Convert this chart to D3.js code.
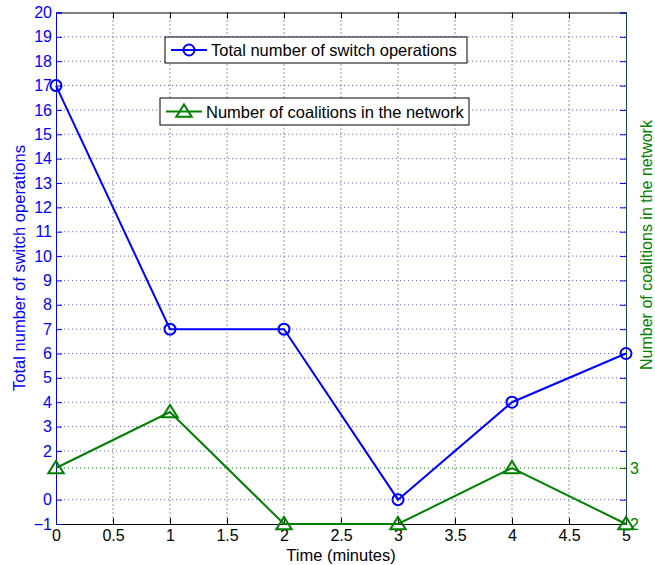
<!DOCTYPE html>
<html><head><meta charset="utf-8">
<script src="https://cdn.jsdelivr.net/npm/d3@7"></script>
<style>body{margin:0;background:#fff}text{font-family:"Liberation Sans",Arial,sans-serif}</style>
</head><body><svg id="c" width="655" height="565"></svg>
<script>
const times = [0, 1, 2, 3, 4, 5];
const switchOps = [17, 7, 7, 0, 4, 6];
const coalitions = [3, 4, 2, 2, 3, 2];
const xTicks = [0, 0.5, 1, 1.5, 2, 2.5, 3, 3.5, 4, 4.5, 5];
const leftTicks = [-1, 0, 2, 3, 4, 5, 6, 7, 8, 9, 10, 11, 12, 13, 14, 15, 16, 17, 18, 19, 20];
const rightTicks = [2, 3];
const labels = {x: "Time (minutes)", yl: "Total number of switch operations", yr: "Number of coalitions in the network"};

const svg = d3.select("#c");
const L = 56, R = 626, T = 12.5, B = 524;
const x = d3.scaleLinear().domain([0, 5]).range([L, R]);
const yl = d3.scaleLinear().domain([-1, 20]).range([B, T]);
const yr = d3.scaleLinear().domain([2, 2 + (B - T) / 56]).range([B, T]);
const blue = "#0000ff", green = "#008000";

// grids
const g = svg.append("g");
g.selectAll(".vg").data(xTicks.slice(1, -1)).join("line")
  .attr("x1", d => x(d)).attr("x2", d => x(d)).attr("y1", T).attr("y2", B)
  .attr("stroke", "#000").attr("stroke-width", 1).attr("stroke-dasharray", "1,3").attr("opacity", 0.8);
g.selectAll(".hg").data(leftTicks.slice(1, -1)).join("line")
  .attr("x1", L).attr("x2", R).attr("y1", d => yl(d)).attr("y2", d => yl(d))
  .attr("stroke", "#6060ff").attr("stroke-width", 1).attr("stroke-dasharray", "1,3");
g.selectAll(".rg").data(rightTicks.slice(1)).join("line")
  .attr("x1", L).attr("x2", R).attr("y1", d => yr(d)).attr("y2", d => yr(d))
  .attr("stroke", green).attr("stroke-width", 1).attr("stroke-dasharray", "1,3");

// axes
const ax = svg.append("g").attr("transform", `translate(0,${B})`)
  .call(d3.axisBottom(x).tickValues(xTicks).tickSize(-6).tickPadding(6).tickFormat(d3.format("")));
ax.select(".domain").attr("stroke", "#000");
ax.selectAll("text").attr("font-size", 16).attr("fill", "#000");
const axt = svg.append("g").attr("transform", `translate(0,${T})`)
  .call(d3.axisTop(x).tickValues(xTicks).tickSize(-6).tickFormat(""));
axt.select(".domain").attr("stroke", "#000");

const al = svg.append("g").attr("transform", `translate(${L},0)`)
  .call(d3.axisLeft(yl).tickValues(leftTicks).tickSize(-6).tickPadding(4).tickFormat(d => d < 0 ? "\u2212" + (-d) : d));
al.select(".domain").attr("stroke", blue);
al.selectAll("line").attr("stroke", blue);
al.selectAll("text").attr("font-size", 16).attr("fill", blue);
const alr = svg.append("g").attr("transform", `translate(${R},0)`)
  .call(d3.axisRight(yl).tickValues(leftTicks).tickSize(-6).tickFormat(""));
alr.select(".domain").attr("stroke", blue);
alr.selectAll("line").attr("stroke", blue);

const ar = svg.append("g").attr("transform", `translate(${R},0)`)
  .call(d3.axisRight(yr).tickValues(rightTicks).tickSize(-6).tickPadding(4).tickFormat(d3.format("")));
ar.select(".domain").attr("stroke", "#1a4a3a");
ar.selectAll("line").attr("stroke", green);
ar.selectAll("text").attr("font-size", 16).attr("fill", green);

// lines
const lineL = d3.line().x((d, i) => x(times[i])).y(d => yl(d));
const lineR = d3.line().x((d, i) => x(times[i])).y(d => yr(d));
svg.append("path").attr("d", lineL(switchOps)).attr("fill", "none").attr("stroke", blue).attr("stroke-width", 2);
svg.selectAll(".cm").data(switchOps).join("circle")
  .attr("cx", (d, i) => x(times[i])).attr("cy", d => yl(d)).attr("r", 5.5)
  .attr("fill", "none").attr("stroke", blue).attr("stroke-width", 2);
svg.append("path").attr("d", lineR(coalitions)).attr("fill", "none").attr("stroke", green).attr("stroke-width", 2);
const tri = (cx, cy, s) => `M${cx},${cy - s}L${cx + s * 1.1},${cy + s * 0.75}L${cx - s * 1.1},${cy + s * 0.75}Z`;
svg.selectAll(".tm").data(coalitions).join("path")
  .attr("d", (d, i) => tri(x(times[i]), yr(d), 7))
  .attr("fill", "none").attr("stroke", green).attr("stroke-width", 2);

// titles
svg.append("text").attr("x", 341).attr("y", 561).attr("text-anchor", "middle").attr("font-size", 16.5).attr("fill", "#000").text(labels.x);
svg.append("text").attr("transform", "translate(25,268) rotate(-90)").attr("text-anchor", "middle").attr("font-size", 16.5).attr("fill", blue).text(labels.yl);
svg.append("text").attr("transform", "translate(652,245) rotate(-90)").attr("text-anchor", "middle").attr("font-size", 16).attr("fill", green).text(labels.yr);

// legends
function legend(x0, y0, w, h, color, marker, text) {
  const lg = svg.append("g");
  lg.append("rect").attr("x", x0).attr("y", y0).attr("width", w).attr("height", h).attr("fill", "#fff").attr("stroke", "#000").attr("stroke-width", 1);
  const cy = y0 + h / 2;
  lg.append("line").attr("x1", x0 + 6).attr("x2", x0 + 42).attr("y1", cy).attr("y2", cy).attr("stroke", color).attr("stroke-width", 2);
  if (marker === "o") lg.append("circle").attr("cx", x0 + 24).attr("cy", cy).attr("r", 5.5).attr("fill", "none").attr("stroke", color).attr("stroke-width", 2);
  else lg.append("path").attr("d", tri(x0 + 24, cy, 7)).attr("fill", "none").attr("stroke", color).attr("stroke-width", 2);
  lg.append("text").attr("x", x0 + 46).attr("y", cy + 6).attr("font-size", 16.5).attr("fill", "#000").text(text);
}
legend(165, 37, 302, 26, blue, "o", labels.yl);
legend(160, 98, 309, 27, green, "^", labels.yr);
</script></body></html>
